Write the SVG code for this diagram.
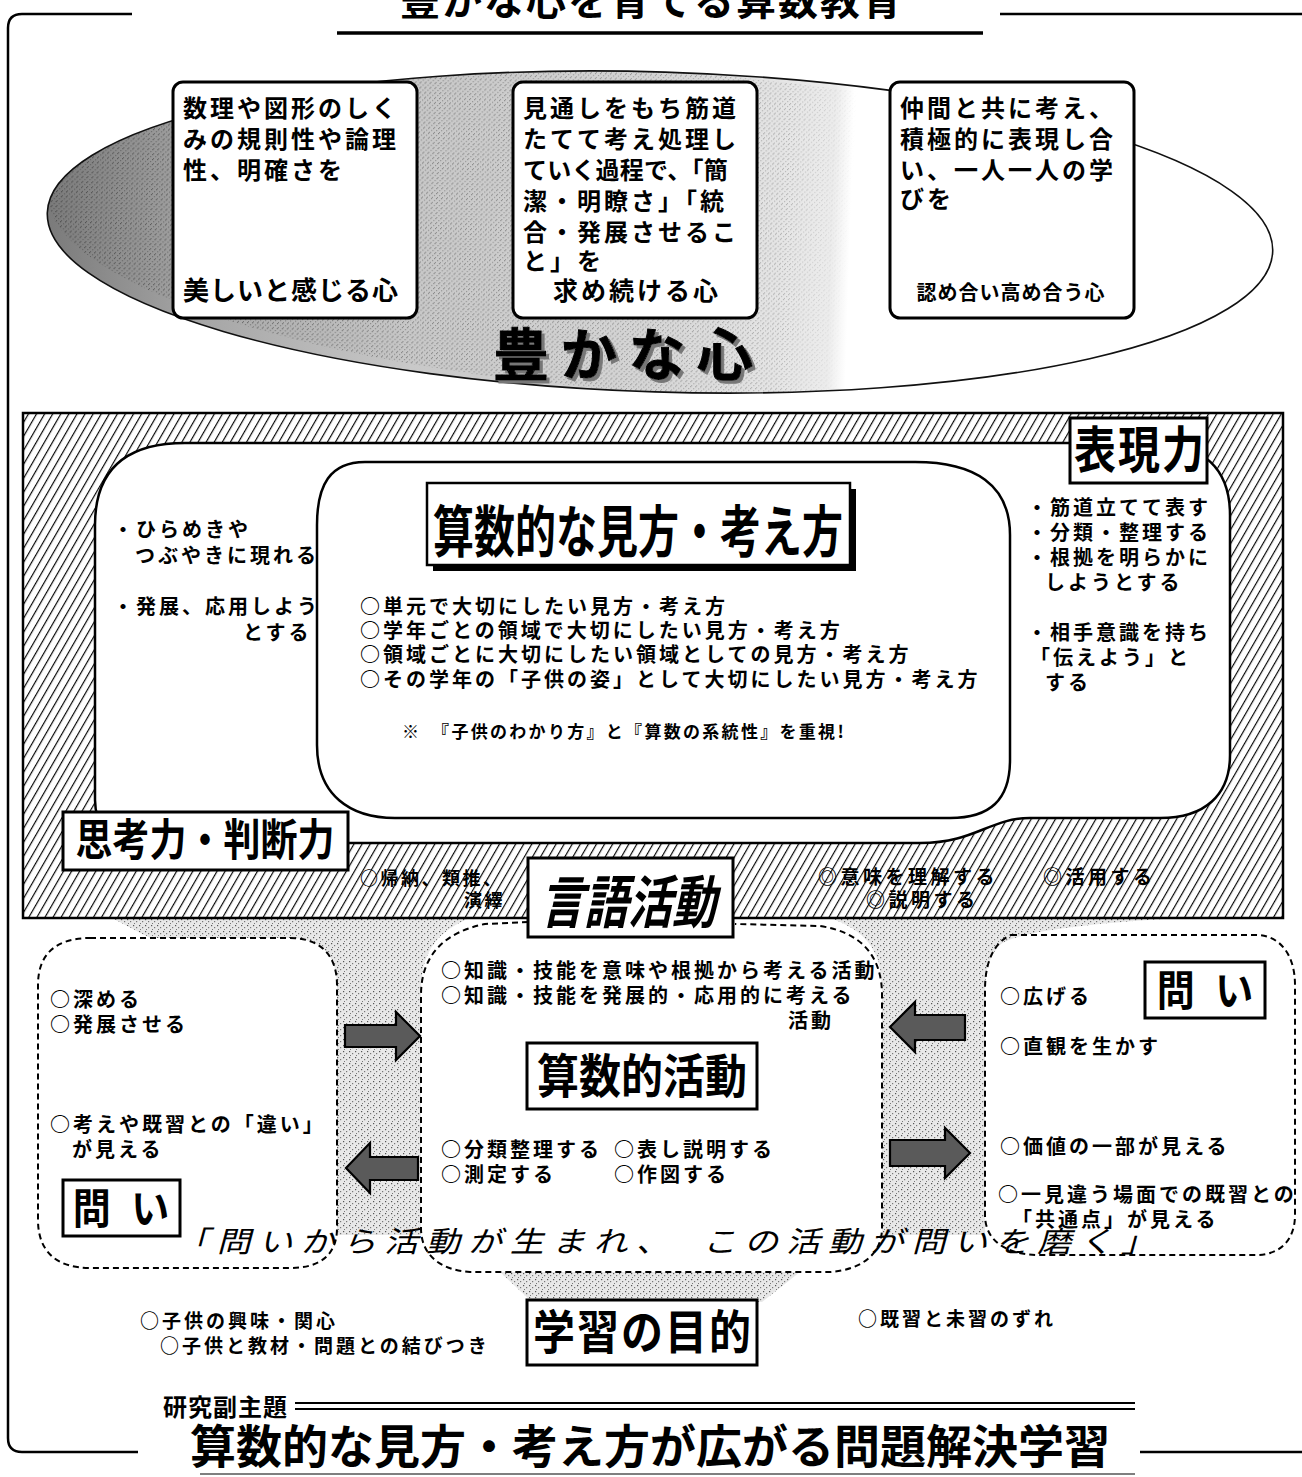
<svg xmlns="http://www.w3.org/2000/svg" width="1302" height="1477" viewBox="0 0 1302 1477">
<defs>
<style>
.t{font-family:"Noto Sans CJK JP","Noto Sans CJK SC",sans-serif;font-weight:700;fill:#000}
.box{fill:#fff;stroke:#000;stroke-width:3}
.ln{fill:none;stroke:#000;stroke-width:2.5}
.dash{fill:none;stroke:#000;stroke-width:2;stroke-dasharray:6 4}
.arrow{fill:#5a5a5a;stroke:#000;stroke-width:2.2}
.s20{font-size:20px;letter-spacing:3px}
.s24{font-size:24px;letter-spacing:3px}
</style>
<filter id="shadow" x="-5%" y="-5%" width="115%" height="120%">
<feDropShadow dx="3" dy="3" stdDeviation="0.3" flood-color="#777" flood-opacity="1"/>
</filter>
<linearGradient id="ellGrad" x1="0" y1="0" x2="1" y2="0">
<stop offset="0" stop-color="#7a7a7a"/>
<stop offset="0.12" stop-color="#a4a4a4"/>
<stop offset="0.3" stop-color="#c8c8c8"/>
<stop offset="0.5" stop-color="#d6d6d6"/>
<stop offset="0.64" stop-color="#ececec"/>
<stop offset="0.655" stop-color="#fff"/>
<stop offset="1" stop-color="#fff"/>
</linearGradient>
<linearGradient id="ellMaskGrad" x1="0" y1="0" x2="1" y2="0">
<stop offset="0" stop-color="#fff"/>
<stop offset="0.6" stop-color="#888"/>
<stop offset="0.655" stop-color="#000"/>
</linearGradient>
<pattern id="dots" width="5" height="5" patternUnits="userSpaceOnUse">
<rect x="0" y="0" width="1.2" height="1.2" fill="#222"/>
<rect x="3" y="2" width="1.2" height="1.2" fill="#444"/>
<rect x="1" y="4" width="1" height="1" fill="#333"/>
</pattern>
<pattern id="stip" width="6" height="6" patternUnits="userSpaceOnUse">
<rect width="6" height="6" fill="#e8e8e8"/>
<rect x="1" y="1" width="1.2" height="1.2" fill="#555"/>
<rect x="4" y="3" width="1.2" height="1.2" fill="#777"/>
<rect x="2" y="5" width="1" height="1" fill="#777"/>
</pattern>
<pattern id="hatch" width="7" height="10" patternUnits="userSpaceOnUse" patternTransform="rotate(30)">
<rect width="7" height="10" fill="#fff"/>
<line x1="0.6" y1="0" x2="0.6" y2="10" stroke="#000" stroke-width="1.15"/>
</pattern>
<mask id="ellMask" maskUnits="userSpaceOnUse" x="0" y="0" width="1302" height="500">
<ellipse cx="660" cy="232" rx="613" ry="160" fill="url(#ellMaskGrad)" transform="rotate(1.8 660 232)"/>
</mask>
</defs>
<rect width="1302" height="1477" fill="#fff"/>

<!-- outer frame and main title -->
<g id="frame">
<path class="ln" d="M132,14 L22,14 Q8,14 8,28 L8,1438 Q8,1452 22,1452 L138,1452"/>
<path class="ln" d="M1000,14 L1302,14"/>
<path class="ln" d="M1140,1452 L1302,1452"/>
<path d="M337,33 L983,33" stroke="#000" stroke-width="3.5"/>
<text class="t" x="652" y="15" font-size="40" letter-spacing="2" text-anchor="middle">豊かな心を育てる算数教育</text>
</g>

<!-- upper ellipse: 豊かな心 -->
<g id="ellipse-kokoro">
<ellipse cx="660" cy="232" rx="613" ry="160" fill="url(#ellGrad)" transform="rotate(1.8 660 232)"/>
<ellipse cx="660" cy="232" rx="613" ry="160" fill="url(#dots)" mask="url(#ellMask)" opacity="0.55" transform="rotate(1.8 660 232)"/>
<ellipse cx="660" cy="232" rx="613" ry="160" fill="none" stroke="#111" stroke-width="1.6" transform="rotate(1.8 660 232)"/>
<text class="t" x="493" y="375" font-size="56" letter-spacing="12" stroke="#000" stroke-width="1" filter="url(#shadow)">豊かな心</text>
</g>

<g id="box-beauty">
<rect class="box" x="173" y="82" width="244" height="236" rx="10"/>
<text class="t s24"><tspan x="183" y="117">数理や図形のしく</tspan><tspan x="183" y="148">みの規則性や論理</tspan><tspan x="183" y="179">性、明確さを</tspan></text>
<text class="t" x="183" y="300" font-size="26" letter-spacing="1">美しいと感じる心</text>
</g>

<g id="box-pursue">
<rect class="box" x="513" y="82" width="244" height="236" rx="10"/>
<text class="t s24"><tspan x="523" y="117">見通しをもち筋道</tspan><tspan x="523" y="148">たてて考え処理し</tspan><tspan x="523" y="179" letter-spacing="0.2">ていく過程で、「簡</tspan><tspan x="523" y="210">潔・明瞭さ」「統</tspan><tspan x="523" y="241">合・発展させるこ</tspan><tspan x="523" y="270">と」を</tspan><tspan x="553" y="300" font-size="25">求め続ける心</tspan></text>
</g>

<g id="box-mutual">
<rect class="box" x="890" y="82" width="244" height="236" rx="10"/>
<text class="t s24"><tspan x="900" y="117">仲間と共に考え、</tspan><tspan x="900" y="148">積極的に表現し合</tspan><tspan x="900" y="179">い、一人一人の学</tspan><tspan x="900" y="208">びを</tspan></text>
<text class="t" x="1011" y="300" font-size="20" letter-spacing="1" text-anchor="middle">認め合い高め合う心</text>
</g>

<!-- funnels (gray) -->
<g id="funnels">
<path fill="url(#stip)" d="M112,918 L470,918 C440,930 421,950 421,990 L421,1235 L337,1235 L337,985 C337,955 320,938 290,938 L150,938 Z"/>
<path fill="url(#stip)" d="M830,918 L1180,918 C1060,925 1011,935 1000,945 C990,955 985,970 985,990 L985,1235 L882,1235 L882,990 C882,950 865,930 830,918 Z"/>
<path fill="url(#stip)" d="M500,1272 L800,1272 L762,1302 L532,1302 Z"/>
</g>

<!-- middle hatched region -->
<g id="region-thinking">
<rect x="23" y="413" width="1260" height="505" fill="url(#hatch)" stroke="#000" stroke-width="2.5"/>
<path fill="#fff" stroke="#000" stroke-width="2.5" d="M95,525 C95,470 125,443 185,443 L1150,443 C1205,443 1230,470 1230,515 L1230,755 C1230,795 1205,818 1160,818 L1030,818 C990,818 975,843 920,843 L140,843 C110,843 95,825 95,800 Z"/>
<text class="t s20" letter-spacing="2"><tspan x="113" y="537">・ひらめきや</tspan><tspan x="135" y="563">つぶやきに現れる</tspan></text>
<text class="t s20" letter-spacing="2"><tspan x="113" y="614">・発展、応用しよう</tspan><tspan x="243" y="640">とする</tspan></text>
<text class="t s20" letter-spacing="1.5"><tspan x="1027" y="515">・筋道立てて表す</tspan><tspan x="1027" y="540">・分類・整理する</tspan><tspan x="1027" y="565">・根拠を明らかに</tspan><tspan x="1045" y="590">しようとする</tspan></text>
<text class="t s20" letter-spacing="1.5"><tspan x="1027" y="640">・相手意識を持ち</tspan><tspan x="1030" y="665">「伝えよう」と</tspan><tspan x="1045" y="690">する</tspan></text>
<text class="t" font-size="18" letter-spacing="2.5"><tspan x="360" y="885">○帰納、類推、</tspan><tspan x="464" y="907">演繹</tspan></text>
<text class="t" font-size="19" letter-spacing="3.5"><tspan x="818" y="884">◎意味を理解する</tspan><tspan x="866" y="907">◎説明する</tspan></text>
<text class="t" x="1043" y="884" font-size="19" letter-spacing="3.5">◎活用する</text>
</g>

<g id="label-hyogen">
<rect class="box" x="1070" y="418" width="137" height="65"/>
<text class="t" x="0" y="0" font-size="42" letter-spacing="2" text-anchor="middle" transform="translate(1140,468) scale(1,1.2)">表現力</text>
</g>

<g id="label-shiko">
<rect class="box" x="63" y="812" width="285" height="58"/>
<text class="t" x="0" y="0" font-size="37" text-anchor="middle" transform="translate(205,856) scale(1,1.2)">思考力・判断力</text>
</g>

<g id="box-mikata">
<path fill="#fff" stroke="#000" stroke-width="2.5" d="M317,525 C317,485 330,462 365,462 L915,462 C975,462 1010,485 1010,535 L1010,760 C1010,800 990,818 950,818 L395,818 C350,818 317,795 317,745 Z"/>
<rect x="433" y="489" width="423" height="82" fill="#000"/>
<rect x="427" y="483" width="423" height="82" fill="#fff" stroke="#000" stroke-width="2.5"/>
<text class="t" x="0" y="0" font-size="41" text-anchor="middle" transform="translate(638,552) scale(1,1.35)">算数的な見方・考え方</text>
<text class="t s20" letter-spacing="2.7"><tspan x="360" y="614">○単元で大切にしたい見方・考え方</tspan><tspan x="360" y="638">○学年ごとの領域で大切にしたい見方・考え方</tspan><tspan x="360" y="662">○領域ごとに大切にしたい領域としての見方・考え方</tspan><tspan x="360" y="687">○その学年の「子供の姿」として大切にしたい見方・考え方</tspan></text>
<text class="t" x="402" y="738" font-size="17" letter-spacing="2.3">※　『子供のわかり方』と『算数の系統性』を重視!</text>
</g>

<!-- lower dashed areas -->
<g id="area-left">
<path class="dash" d="M90,938 L290,938 C320,938 337,955 337,985 L337,1228 C337,1255 320,1268 290,1268 L90,1268 C55,1268 38,1250 38,1220 L38,985 C38,955 55,938 90,938 Z"/>
<text class="t s20"><tspan x="50" y="1007">○深める</tspan><tspan x="50" y="1032">○発展させる</tspan></text>
<text class="t s20"><tspan x="50" y="1132">○考えや既習との「違い」</tspan><tspan x="72" y="1157">が見える</tspan></text>
<rect class="box" x="63" y="1180" width="117" height="56"/>
<text class="t" x="0" y="0" font-size="38" letter-spacing="6" text-anchor="middle" transform="translate(124,1224) scale(1,1.1)">問 い</text>
</g>

<g id="area-center">
<path class="dash" d="M528,922 L485,924 C445,932 421,955 421,995 L421,1228 C421,1255 440,1270 470,1272 L830,1272 C860,1270 882,1255 882,1228 L882,995 C882,955 860,932 820,926 L735,924"/>
<text class="t s20"><tspan x="441" y="978">○知識・技能を意味や根拠から考える活動</tspan><tspan x="441" y="1003">○知識・技能を発展的・応用的に考える</tspan><tspan x="788" y="1028">活動</tspan></text>
<text class="t s20" letter-spacing="2.5"><tspan x="441" y="1157">○分類整理する</tspan><tspan x="441" y="1182">○測定する</tspan></text>
<text class="t s20" letter-spacing="2.5"><tspan x="614" y="1157">○表し説明する</tspan><tspan x="614" y="1182">○作図する</tspan></text>
</g>

<g id="area-right">
<path class="dash" d="M1011,935 L1256,935 C1280,935 1295,955 1295,985 L1295,1215 C1295,1240 1280,1255 1256,1255 L1040,1255 C1005,1255 985,1240 985,1215 L985,990 C985,960 995,942 1011,935 Z"/>
<rect class="box" x="1145" y="962" width="120" height="56"/>
<text class="t" x="0" y="0" font-size="38" letter-spacing="6" text-anchor="middle" transform="translate(1208,1006) scale(1,1.1)">問 い</text>
<text class="t s20"><tspan x="1000" y="1004">○広げる</tspan><tspan x="1000" y="1054">○直観を生かす</tspan></text>
<text class="t s20" letter-spacing="2"><tspan x="1000" y="1154" letter-spacing="3">○価値の一部が見える</tspan><tspan x="998" y="1202">○一見違う場面での既習との</tspan><tspan x="1012" y="1227">「共通点」が見える</tspan></text>
</g>

<g id="label-gengo">
<rect class="box" x="528" y="858" width="205" height="79"/>
<text class="t" x="0" y="0" font-size="44" text-anchor="middle" transform="translate(628,923) skewX(-12) scale(1,1.3)">言語活動</text>
</g>

<g id="label-sansu-katsudo">
<rect class="box" x="527" y="1043" width="230" height="66"/>
<text class="t" x="0" y="0" font-size="42" text-anchor="middle" transform="translate(642,1093) scale(1,1.1)">算数的活動</text>
</g>

<!-- connectors: block arrows -->
<g id="connectors">
<path class="arrow" d="M345,1025 L396,1025 L396,1012 L420,1036 L396,1060 L396,1047 L345,1047 Z"/>
<path class="arrow" d="M418,1157 L370,1157 L370,1143 L346,1168 L370,1193 L370,1180 L418,1180 Z"/>
<path class="arrow" d="M965,1015 L915,1015 L915,1002 L890,1027 L915,1052 L915,1040 L965,1040 Z"/>
<path class="arrow" d="M890,1140 L945,1140 L945,1128 L970,1153 L945,1178 L945,1166 L890,1166 Z"/>
</g>

<g id="slogan">
<text class="t" x="0" y="0" font-size="34" style="font-weight:400" textLength="980" lengthAdjust="spacing" transform="translate(175,1252) skewX(-15) scale(1,0.85)">「問いから活動が生まれ、　この活動が問いを磨く」</text>
</g>

<g id="label-mokuteki">
<rect class="box" x="527" y="1300" width="230" height="65"/>
<text class="t" x="0" y="0" font-size="42" letter-spacing="2" text-anchor="middle" transform="translate(643,1349) scale(1,1.1)">学習の目的</text>
<text class="t" font-size="19" letter-spacing="3"><tspan x="140" y="1328">○子供の興味・関心</tspan><tspan x="160" y="1353">○子供と教材・問題との結びつき</tspan></text>
<text class="t" x="858" y="1326" font-size="19" letter-spacing="3">○既習と未習のずれ</text>
</g>

<g id="subtitle">
<text class="t" x="163" y="1416" font-size="24" letter-spacing="1">研究副主題</text>
<path d="M295,1403 L1135,1403 M295,1409 L1135,1409" stroke="#000" stroke-width="2"/>
<text class="t" x="650" y="1463" font-size="46" text-anchor="middle">算数的な見方・考え方が広がる問題解決学習</text>
<path d="M200,1474 L1135,1474" stroke="#555" stroke-width="1.5"/>
</g>
</svg>
